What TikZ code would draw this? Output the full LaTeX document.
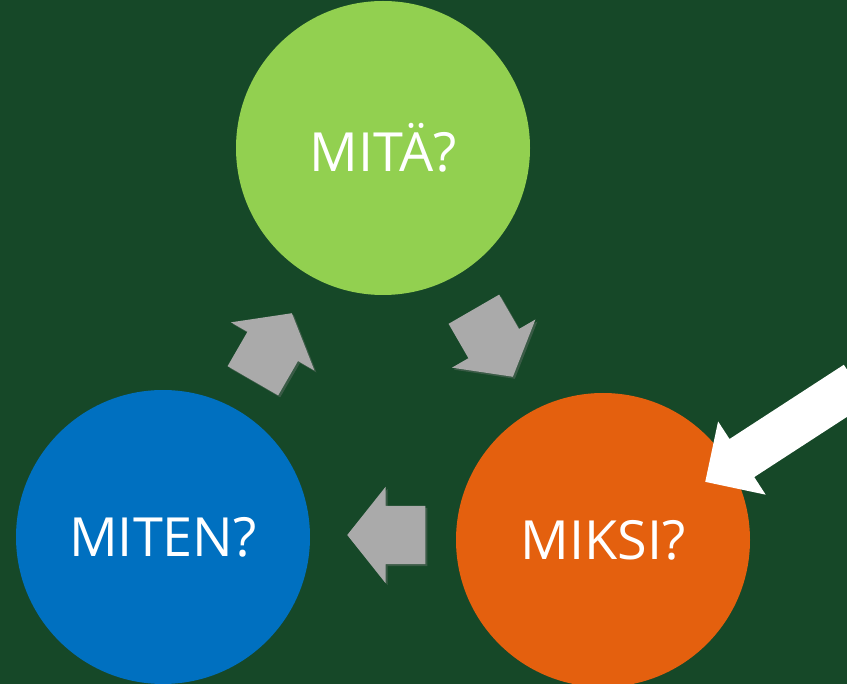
\documentclass[tikz,border=0pt]{standalone}
\usepackage{fontspec}
\setmainfont{Open Sans}
\usetikzlibrary{shapes.arrows, shadows}
\definecolor{board}{RGB}{22,72,40}
\definecolor{mita}{RGB}{146,208,80}
\definecolor{miten}{RGB}{0,112,192}
\definecolor{miksi}{RGB}{228,96,14}
\definecolor{turn}{RGB}{170,170,170}

\begin{document}
\begin{tikzpicture}[x=1pt, y=-1pt]
			\tikzset {question/.style={circle, minimum size=294pt, inner sep=0pt, text=white, font=\fontsize{54}{60}\selectfont},
				turnarrow/.style={single arrow, fill=turn, anchor=tip, inner xsep=0pt, inner ysep=29pt, minimum height=78pt, single arrow head extend=19pt, single arrow tip angle=103, drop shadow={shadow xshift=2pt, shadow yshift=-2pt, opacity=0.35}},
				pointer/.style={single arrow, fill=white, anchor=tip, inner xsep=0pt, inner ysep=22.5pt, minimum height=180pt, single arrow head extend=21pt, single arrow tip angle=90} }
			
			\fill[board] (0,0) rectangle (847,684);
			\useasboundingbox (0,0) rectangle (847,684);
			\clip (0,0) rectangle (847,684);
			
			\node[question, fill=mita] (mita) at (383,148) {MITÄ?};
			\node[question, fill=miksi] (miksi) at (603,540) {MIKSI?};
			\node[question, fill=miten] (miten) at (163,537) {MITEN?};
			
			\node[turnarrow, rotate=-60] (a1) at (513,377) {};
			\node[turnarrow, rotate=180] (a2) at (347,535) {};
			\node[turnarrow, rotate=60] (a3) at (292,313) {};
			
			\node[pointer, rotate=213] (hint) at (705,482) {};
		\end{tikzpicture}
\end{document}
